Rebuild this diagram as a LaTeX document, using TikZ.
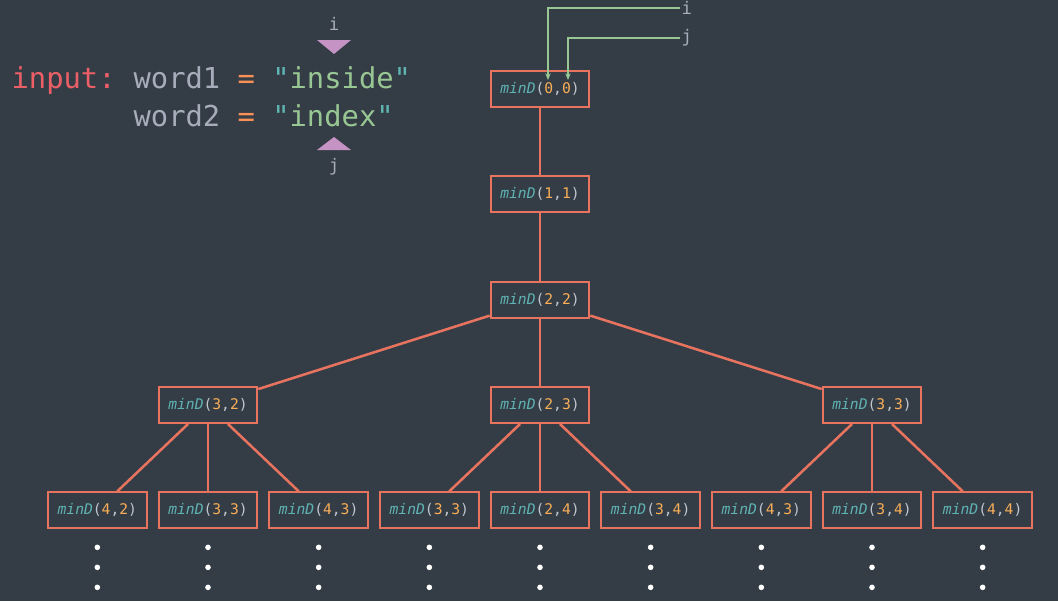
\documentclass[tikz,border=0pt]{standalone}
\usepackage{fontspec}
\setmonofont{DejaVu Sans Mono}
\usepackage{tikz}
\usetikzlibrary{positioning,arrows.meta}
\definecolor{bgslate}{HTML}{343D46}
\definecolor{boxred}{HTML}{E8735F}
\definecolor{mteal}{HTML}{5FB3B3}
\definecolor{morange}{HTML}{F9AE57}
\definecolor{mgray}{HTML}{C0C5CE}
\definecolor{mred}{HTML}{EC5F67}
\definecolor{wgray}{HTML}{A7ADBA}
\definecolor{eqorange}{HTML}{F99157}
\definecolor{mgreen}{HTML}{99C794}
\definecolor{mpink}{HTML}{C594C5}
\newcommand{\mind}[2]{\textcolor{mteal}{\itshape minD}\textcolor{mgray}{(}\textcolor{morange}{#1}\textcolor{mgray}{,}\textcolor{morange}{#2}\textcolor{mgray}{)}}
\newcommand{\qstr}[1]{\textcolor{mteal}{"}\textcolor{mgreen}{#1}\textcolor{mteal}{"}}

\begin{document}
\begin{tikzpicture}[
		x=0.75pt, y=-0.75pt,
		every node/.style={font=\ttfamily, inner sep=1pt},
		call/.style={draw=boxred, line width=1.5pt, minimum width=74pt,
			minimum height=27pt, inner sep=2pt, font=\ttfamily\fontsize{11}{13}\selectfont},
		tree/.style={draw=boxred, line width=1.9pt},
		ptr/.style={draw=mgreen, line width=1pt, -{Stealth[length=5pt,width=4pt]}},
		idx/.style={text=wgray, font=\ttfamily\fontsize{13}{15}\selectfont},
		big/.style={anchor=base west, font=\ttfamily\fontsize{21.6}{26}\selectfont},
		]
		\fill[bgslate] (0,0) rectangle (1058,601);
		\useasboundingbox (0,0) rectangle (1058,601);

		% input strings
		\node (input) [big, text=mred] at (10,88) {input:};
		\node (word1) [big] at (132,88)
			{\textcolor{wgray}{word1} \textcolor{eqorange}{=} \qstr{inside}};
		\node (word2) [big] at (132,126)
			{\textcolor{wgray}{word2} \textcolor{eqorange}{=} \qstr{index}};
		\node (ilbl) [idx] at (334,24) {i};
		\node (jlbl) [idx] at (334,167) {j};
		\fill[mpink] (317,40) -- (351,40) -- (334,54) -- cycle;
		\fill[mpink] (317,150) -- (351,150) -- (334,137) -- cycle;

		% recursion tree
		\node (n00) [call] at (540,89) {\mind{0}{0}};
		\node (n11) [call, below=50.5pt of n00] {\mind{1}{1}};
		\node (n22) [call, below=50.5pt of n11] {\mind{2}{2}};
		\node (n23) [call, below=50.5pt of n22] {\mind{2}{3}};
		\node (n32) [call, left=173.5pt of n23] {\mind{3}{2}};
		\node (n33) [call, right=173.5pt of n23] {\mind{3}{3}};
		\node (a33) [call, below=50.5pt of n32] {\mind{3}{3}};
		\node (a42) [call, left=7.5pt of a33] {\mind{4}{2}};
		\node (a43) [call, right=7.5pt of a33] {\mind{4}{3}};
		\node (b24) [call, below=50.5pt of n23] {\mind{2}{4}};
		\node (b33) [call, left=7.5pt of b24] {\mind{3}{3}};
		\node (b34) [call, right=7.5pt of b24] {\mind{3}{4}};
		\node (c34) [call, below=50.5pt of n33] {\mind{3}{4}};
		\node (c43) [call, left=7.5pt of c34] {\mind{4}{3}};
		\node (c44) [call, right=7.5pt of c34] {\mind{4}{4}};

		\draw[tree] (n00) -- (n11);
		\draw[tree] (n11) -- (n22);
		\foreach \c in {n32,n23,n33} \draw[tree] (n22) -- (\c);
		\foreach \c in {a42,a33,a43} \draw[tree] (n32) -- (\c);
		\foreach \c in {b33,b24,b34} \draw[tree] (n23) -- (\c);
		\foreach \c in {c43,c34,c44} \draw[tree] (n33) -- (\c);

		% more calls below
		\foreach \l in {a42,a33,a43,b33,b24,b34,c43,c34,c44}
			\foreach \d in {18,38,58}
				\fill[white] ([yshift=-\d*0.75pt]\l.south) circle (2.1pt);

		% index pointers
		\node (ptri) [idx, anchor=west] at (680,8) {i};
		\node (ptrj) [idx, anchor=west] at (680,38) {j};
		\coordinate (ti) at (548,80);
		\coordinate (tj) at (568,80);
		\draw[ptr] (ptri.west) -| (ti);
		\draw[ptr] (ptrj.west) -| (tj);
	\end{tikzpicture}
\end{document}
